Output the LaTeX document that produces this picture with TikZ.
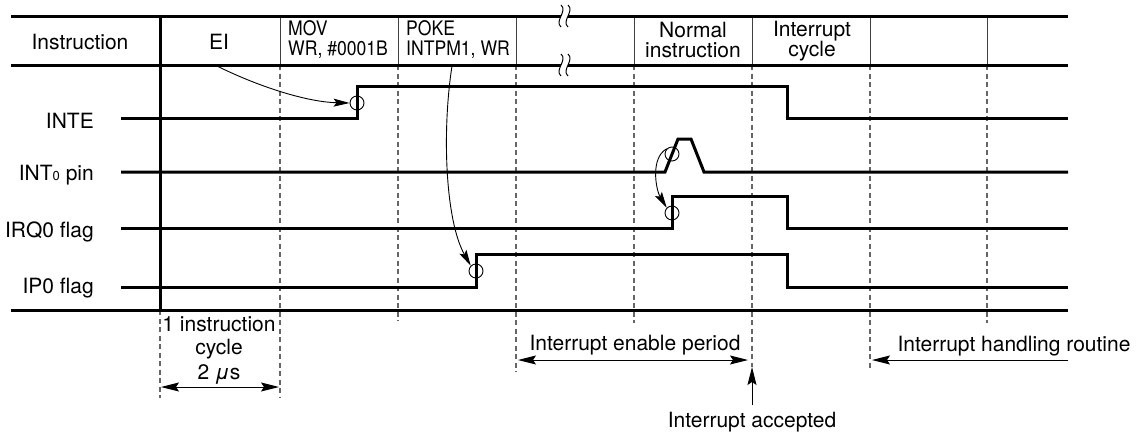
\documentclass[tikz,border=0pt]{standalone}
\usepackage{fontspec}
\setmainfont{TeX Gyre Heros}
\newfontfamily\narrowfont[FakeStretch=0.88]{TeX Gyre Heros}
\usetikzlibrary{arrows.meta}
\begin{document}
\begin{tikzpicture}[x=1pt,y=-1pt,
  thickln/.style={line width=3pt},
  sig/.style={line width=3pt, line join=miter},
  cell/.style={line width=1pt, draw=black!75},
  dsh/.style={line width=1.1pt, draw=black!60, dash pattern=on 5pt off 3.5pt},
  lbl/.style={inner sep=0pt, font=\fontsize{21}{24}\selectfont},
  sml/.style={inner sep=0pt, font=\narrowfont\fontsize{20}{22}\selectfont},
  ring/.style={circle, draw, line width=0.9pt, minimum size=14pt, inner sep=0pt},
  curvearrow/.style={line width=0.9pt, -{Stealth[length=16pt,width=8pt,inset=3pt]}},
  bigarrow/.style={line width=1pt, -{Stealth[length=18pt,width=9pt,inset=3pt]}},
  bigboth/.style={line width=1pt, {Stealth[length=18pt,width=9pt,inset=3pt]}-{Stealth[length=18pt,width=9pt,inset=3pt]}},
  breakln/.style={line width=1pt}
]
\useasboundingbox (0,0) rectangle (1142,434);

% dashed lines
\foreach \xx/\yend in {280/398, 398/321, 516/372, 634/323, 752/367, 870/369, 987/323}{
  \draw[dsh] (\xx,65) -- (\xx,\yend);
}
\draw[dsh] (160,310) -- (160,398);

% header cell separators
\foreach \xx in {280,398,516,634,752,870,987}{
  \draw[cell] (\xx,16) -- (\xx,65);
}

% main frame lines
\draw[thickln] (11,16) -- (1068,16);
\draw[thickln] (11,65) -- (1068,65);
\draw[thickln] (11,310) -- (1068,310);
\draw[thickln] (160,16) -- (160,310);

% break marks
\foreach \yy in {16,65}{
  \fill[white] (561,\yy-2.8) rectangle (568,\yy+2.8);
  \draw[breakln] (561,\yy-11) .. controls (568,\yy-5) and (554,\yy+5) .. (561,\yy+11);
  \draw[breakln] (568,\yy-11) .. controls (575,\yy-5) and (561,\yy+5) .. (568,\yy+11);
}

% waveforms
\draw[sig] (121,118) -- (357,118) -- (357,86) -- (787,86) -- (787,118) -- (1068,118);
\draw[sig] (121,172) -- (665,172) -- (678,139) -- (691,139) -- (704,172) -- (1068,172);
\draw[sig] (121,228) -- (672,228) -- (672,196) -- (787,196) -- (787,228) -- (1068,228);
\draw[sig] (121,287) -- (476,287) -- (476,254) -- (787,254) -- (787,287) -- (1068,287);

% rings
\node[ring] (c1) at (357,103) {};
\node[ring] (c2) at (672,154) {};
\node[ring] (c3) at (672,213) {};
\node[ring] (c4) at (476,271) {};

% header texts
\node[lbl, anchor=base] (tinstr) at (80,49) {Instruction};
\node[lbl, anchor=base] (tei) at (219,49) {EI};
\node[sml, anchor=base west] (tmov) at (288,35.5) {MOV};
\node[sml, anchor=base west] (twr) at (288,55) {WR, \#0001B};
\node[sml, anchor=base west] (tpoke) at (406,35.5) {POKE};
\node[sml, anchor=base west] (tintpm) at (406,55) {INTPM1, WR};
\node[lbl, anchor=base] (tnormal) at (693,37) {Normal};
\node[lbl, anchor=base] (tninstr) at (693,57) {instruction};
\node[lbl, anchor=base] (tintr) at (812,36) {Interrupt};
\node[lbl, anchor=base] (tcycle) at (812,56) {cycle};

% signal labels
\node[lbl, anchor=base east] (linte) at (94,128) {INTE};
\node[lbl, anchor=base east] (lint0) at (94,180) {INT{\fontsize{13}{13}\selectfont 0} pin};
\node[lbl, anchor=base east] (lirq) at (94,237) {IRQ0 flag};
\node[lbl, anchor=base east] (lip) at (94,293) {IP0 flag};

% bottom texts
\node[lbl, anchor=base] (b1) at (219,331) {1 instruction};
\node[lbl, anchor=base] (b2) at (219,354) {cycle};
\node[lbl, anchor=base] (b3) at (219,379) {2 \textit{μ}s};
\node[lbl, anchor=base] (ben) at (635,350) {Interrupt enable period};
\node[lbl, anchor=base] (bhr) at (1014,351) {Interrupt handling routine};
\node[lbl, anchor=base] (bacc) at (752,427) {Interrupt accepted};

% curved arrows
\coordinate (eis) at (217,66);
\coordinate (pks) at (452,66);
\draw[curvearrow] (eis) .. controls (255,85) and (305,102) .. (c1.west);
\draw[curvearrow] (pks) .. controls (442,130) and (445,220) .. (c4.north west);
\draw[curvearrow] (c2.north west) .. controls (650,158) and (656,190) .. (c3.north west);

% bottom arrows
\coordinate (ic1) at (161,387);
\coordinate (ic2) at (279,387);
\draw[bigboth] (ic1) -- (ic2);
\coordinate (ep1) at (518,360);
\coordinate (ep2) at (748,360);
\draw[bigboth] (ep1) -- (ep2);
\coordinate (hr1) at (1068,360);
\coordinate (hr2) at (872,360);
\draw[bigarrow] (hr1) -- (hr2);
\coordinate (ac1) at (752,405);
\coordinate (ac2) at (752,367);
\draw[bigarrow] (ac1) -- (ac2);
\end{tikzpicture}
\end{document}
